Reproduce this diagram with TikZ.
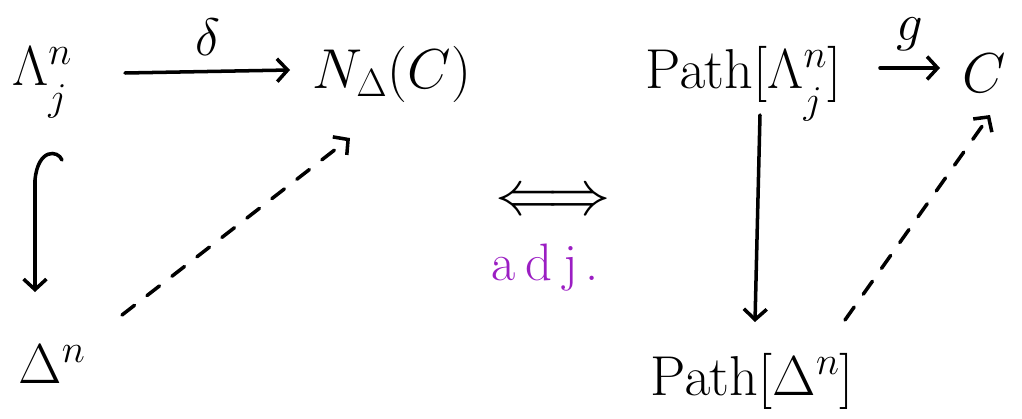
\RequirePackage{fix-cm}
\documentclass[tikz,border=0pt]{standalone}
\usetikzlibrary{arrows.meta,calc}
\definecolor{adjpurple}{RGB}{155,30,195}
\newcommand{\lowj}{\raisebox{-0.2em}{$\scriptstyle j$}}
\begin{document}
\begin{tikzpicture}[x=0.02cm,y=-0.02cm,
  lbl/.style={inner sep=0pt, font=\fontsize{32}{38}\selectfont},
  arr/.style={line width=2pt, line cap=round, -{Straight Barb[length=6pt,width=13pt,line width=2pt]}},
  dasharr/.style={arr, dash pattern=on 9pt off 9pt},
  lab/.style={inner sep=0pt, font=\fontsize{30}{36}\selectfont}]
\useasboundingbox (0,0) rectangle (1022,419);
% left triangle
\node[lbl,anchor=base west] (lam) at (12,85) {$\Lambda^{n}_{\lowj}$};
\node[lbl,anchor=base west] (N) at (312,88) {$N_\Delta(C)$};
\node[lbl,anchor=base west] (dl) at (18,383) {$\Delta^n$};
% middle
\node[lbl,font=\fontsize{36}{42}\selectfont] (iff) at (553,203) {$\Longleftrightarrow$};
\node[lbl,font=\fontsize{30}{36}\selectfont,text=adjpurple] (adj) at (545,268) {a\hspace{0.2em}d\hspace{0.2em}j\hspace{0.15em}.};
% right triangle
\node[lbl,anchor=base west] (pathL) at (645,88) {$\mathrm{Path}[\Lambda^{n}_{\lowj}]$};
\node[lbl,anchor=base west] (C) at (962,92) {$C$};
\node[lbl,anchor=base west] (pathD) at (650,395) {$\mathrm{Path}[\Delta^n]$};
% left connectors
\draw[arr] ([shift={(113,-12)}]lam.base west) -- node[lab,above=8pt] {$\delta$} ([shift={(-22,-18)}]N.base west);
\coordinate (hs) at ([shift={(50,75)}]lam.base west);
\draw[arr] (hs) .. controls ($(hs)+(-4,-10)$) and ($(hs)+(-24,-12)$) .. ($(hs)+(-27,20)$) -- ([shift={(17,-91)}]dl.base west);
\draw[dasharr] ([shift={(104,-68)}]dl.base west) -- ([shift={(38,50)}]N.base west);
% right connectors
\draw[arr] ([shift={(115,27)}]pathL.base west) -- ([shift={(105,-73)}]pathD.base west);
\draw[arr] ([shift={(235,-20)}]pathL.base west) -- node[lab,above=9pt] {$g$} ([shift={(-22,-24)}]C.base west);
\draw[dasharr] ([shift={(195,-75)}]pathD.base west) -- ([shift={(28,23)}]C.base west);
\end{tikzpicture}
\end{document}
